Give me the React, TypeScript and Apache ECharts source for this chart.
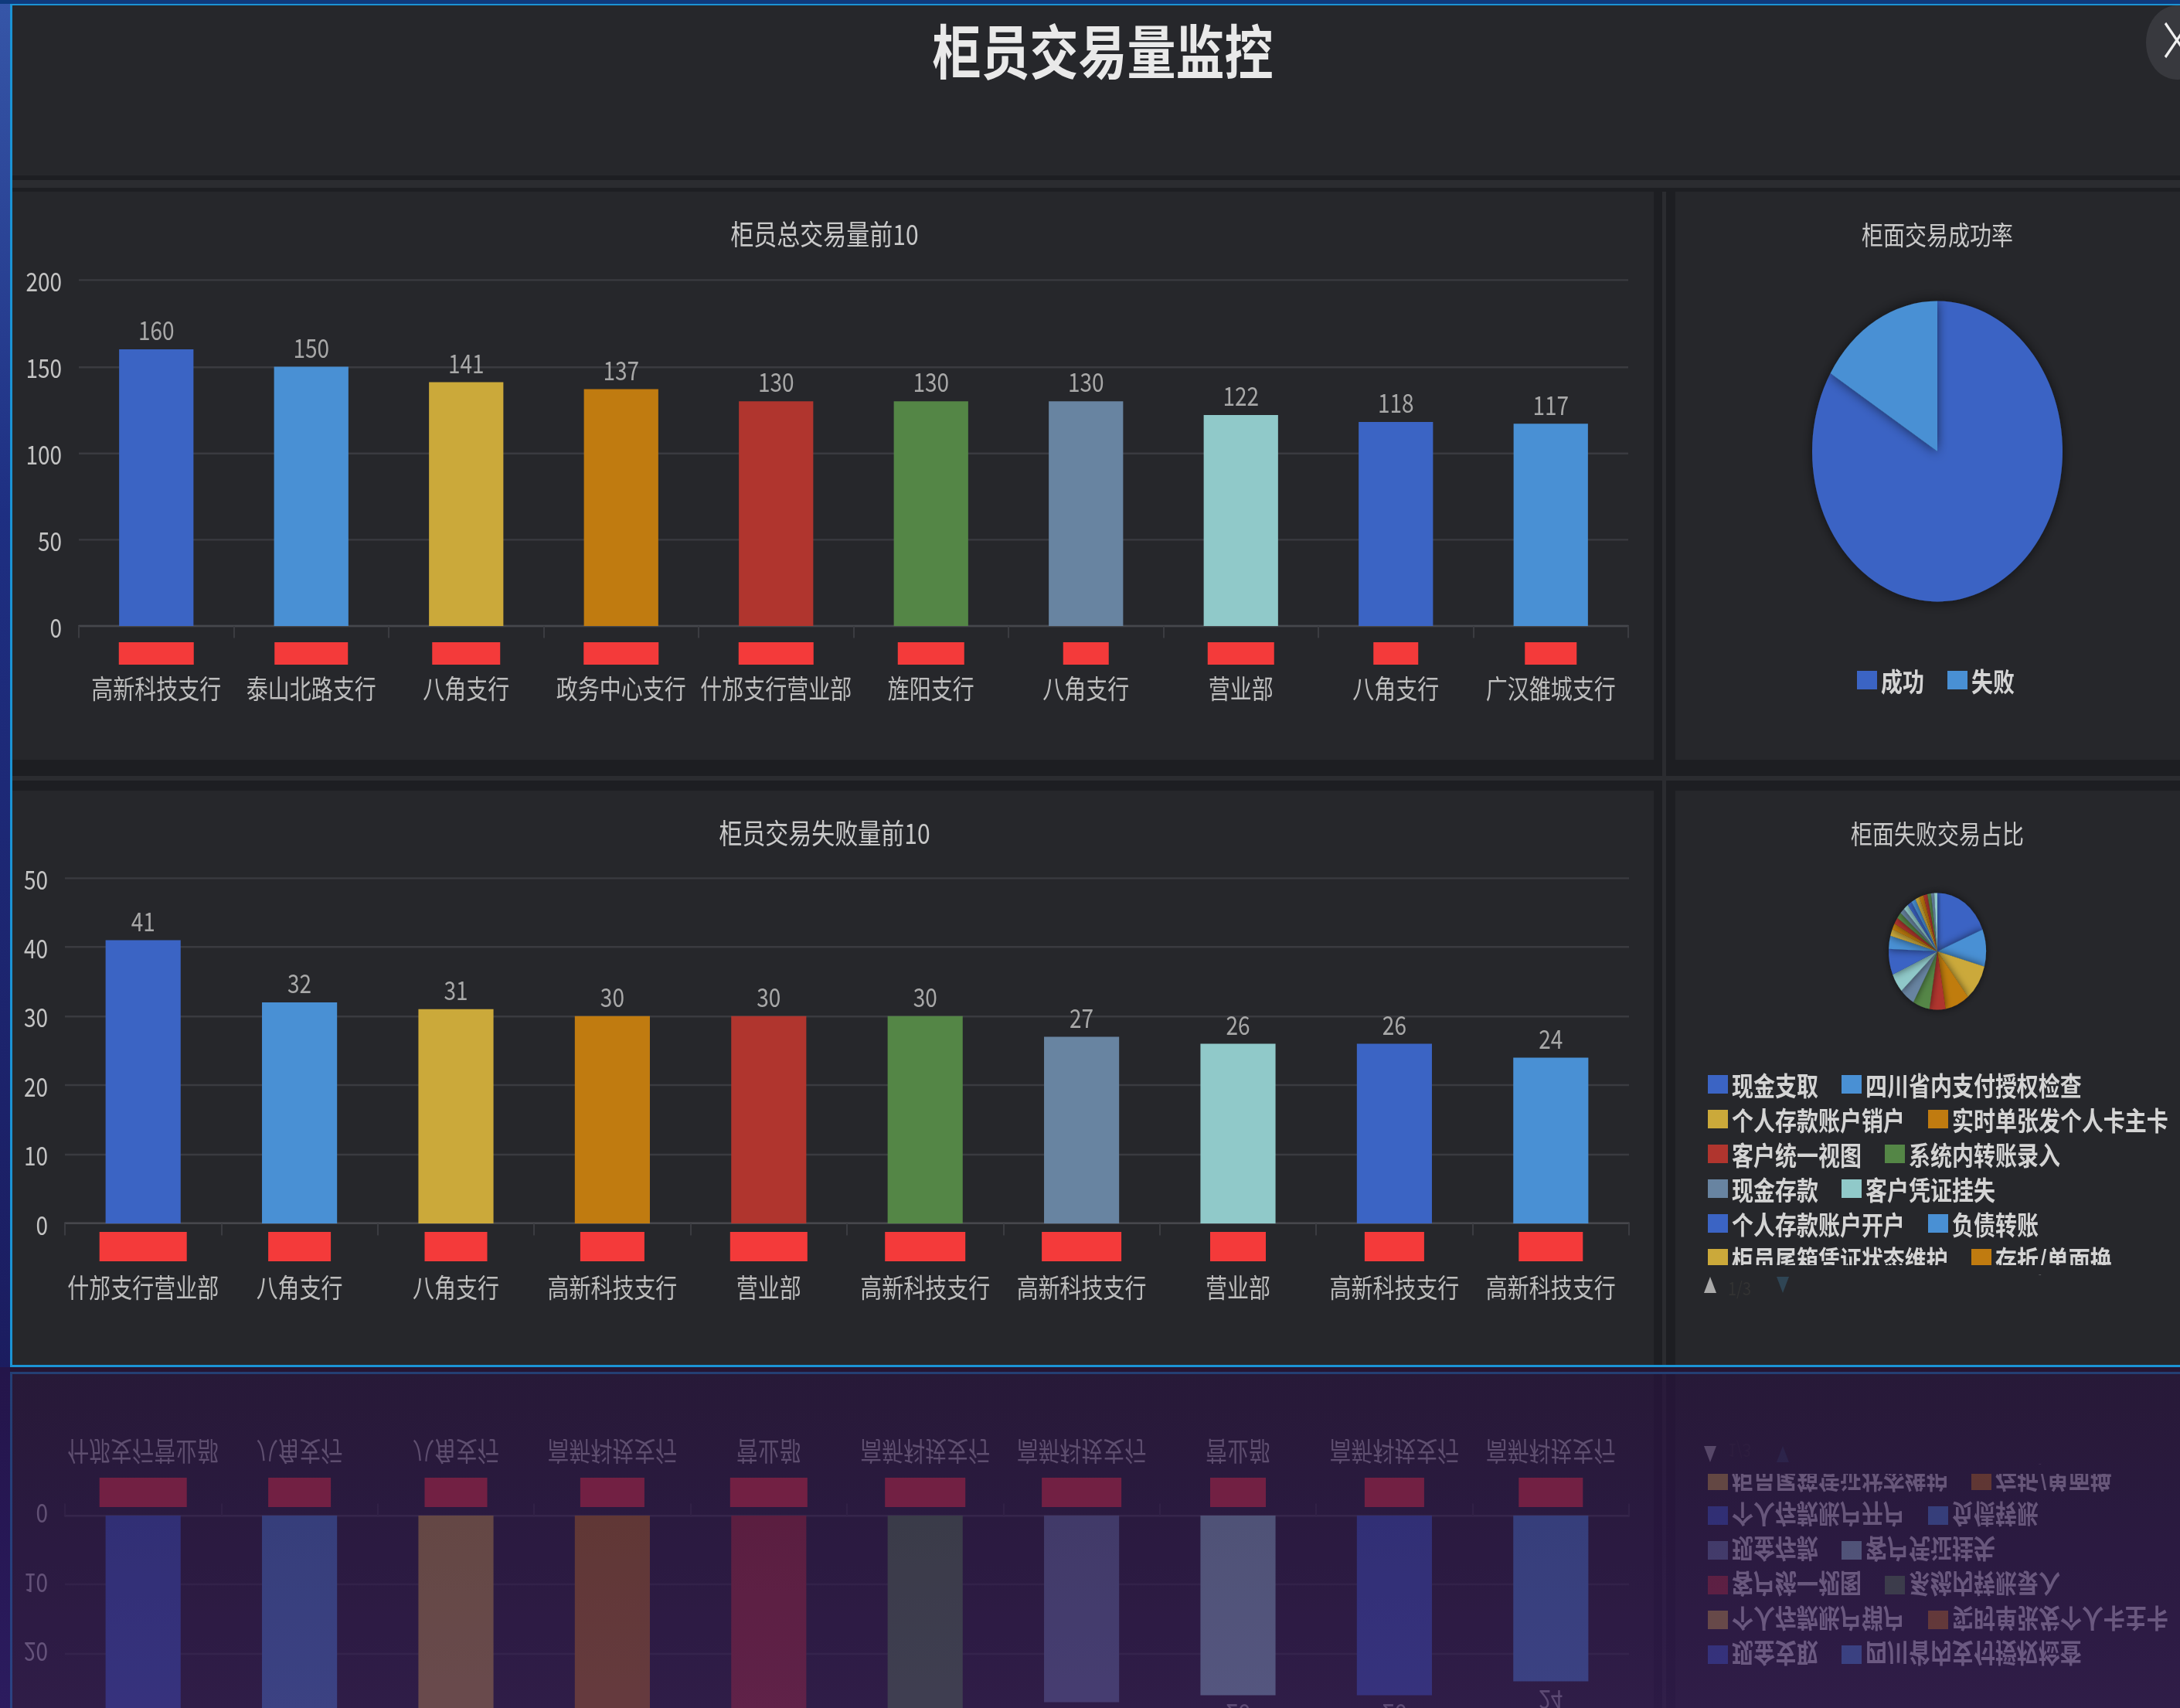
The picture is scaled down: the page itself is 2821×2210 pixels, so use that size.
import React, { useEffect, useRef } from 'react';
import * as echarts from 'echarts';

// ---------- page geometry ----------
const PAGE_W = 2821;
const PAGE_H = 2210;
const STRETCH = 1.2; // the screenshot is stretched vertically
const INNER_H = PAGE_H / STRETCH;
const MIRROR_TOP = 1769;
const MIRROR_AXIS = 1772;
const py = (v: number) => v / STRETCH;

const FONT = "'Noto Sans CJK SC', 'Noto Sans', sans-serif";

// ---------- data ----------
const palette = ['#3b64c4', '#4990d4', '#cba93a', '#c07b10', '#b0352e', '#548646', '#6884a1', '#90c9c9'];

const mainTitle = '柜员交易量监控';

const totalTitle = '柜员总交易量前10';
const totalBranches = ['高新科技支行', '泰山北路支行', '八角支行', '政务中心支行', '什邡支行营业部', '旌阳支行', '八角支行', '营业部', '八角支行', '广汉雒城支行'];
const totalValues = [160, 150, 141, 137, 130, 130, 130, 122, 118, 117];
const totalTicks = [0, 50, 100, 150, 200];

const failTitle = '柜员交易失败量前10';
const failBranches = ['什邡支行营业部', '八角支行', '八角支行', '高新科技支行', '营业部', '高新科技支行', '高新科技支行', '营业部', '高新科技支行', '高新科技支行'];
const failValues = [41, 32, 31, 30, 30, 30, 27, 26, 26, 24];
const failTicks = [0, 10, 20, 30, 40, 50];

const rateTitle = '柜面交易成功率';
const rateNames = ['成功', '失败'];
const rateValues = [83.7, 16.3];

const typeTitle = '柜面失败交易占比';
const typeNames = ['现金支取', '四川省内支付授权检查', '个人存款账户销户', '实时单张发个人卡主卡', '客户统一视图', '系统内转账录入', '现金存款', '客户凭证挂失', '个人存款账户开户', '负债转账', '柜员尾箱凭证状态维护', '存折/单面换', '密码重置', '挂失解挂', '定期存款开户', '定期存款销户', '对公现金存款', '对公现金支取', '账户信息修改', '借记卡换卡', '跨行转账', '代理缴费', '账户冻结', '账户解冻'];
const typeValues = [18.9, 10.3, 10.0, 8.1, 5.3, 5.6, 5.0, 5.3, 7.2, 3.6, 1.9, 1.7, 1.8, 1.7, 1.6, 1.6, 1.5, 1.5, 1.4, 1.4, 1.3, 1.2, 1.1, 1.0];
const typePager = '1/3';

// redaction blocks over the teller names (style only)
const totalMaskWidths = [97, 95, 88, 97, 97, 86, 59, 86, 58, 67];
const failMaskWidths = [113, 81, 81, 83, 100, 104, 103, 72, 77, 83];

// ---------- helpers ----------
const colorAt = (i: number) => palette[i % palette.length];

const rect = (x: number, y0: number, w: number, h: number, fill: any, z = -100) => ({
  type: 'rect', silent: true, z,
  shape: { x, y: py(y0), width: w, height: py(h) },
  style: { fill },
});

function maskRich(widths: number[], h: number) {
  const r: Record<string, any> = {};
  widths.forEach((w, i) => {
    r['m' + i] = { width: w, height: h, lineHeight: h, fontSize: 8, backgroundColor: '#f43a3a', color: 'transparent' };
  });
  return r;
}

function buildOption(reflect: boolean) {
  const grids: any[] = [];
  const xAxes: any[] = [];
  const yAxes: any[] = [];
  const series: any[] = [];
  const legends: any[] = [];
  const titles: any[] = [];

  const graphics: any[] = [
    rect(0, 0, PAGE_W, PAGE_H, '#1d1e22', -120),
    rect(16, 7, PAGE_W - 16, 220, '#26272b'),
    rect(16, 233, PAGE_W - 16, 10, '#2b2c30'),
    rect(16, 248, 2124, 735, '#26272b'),
    rect(2168, 248, PAGE_W - 2168, 735, '#26272b'),
    rect(16, 1023, 2124, 744, '#26272b'),
    rect(2168, 1023, PAGE_W - 2168, 744, '#26272b'),
    rect(16, 1004, PAGE_W - 16, 6, '#2b2c30'),
    rect(2151, 248, 5, 1519, '#2b2c30'),
    rect(0, 0, 13, PAGE_H, new echarts.graphic.LinearGradient(0, 0, 0, 1, [
      { offset: 0, color: '#3656a8' }, { offset: 0.3, color: '#1e2f82' }, { offset: 1, color: '#1a1552' },
    ])),
    rect(0, 0, PAGE_W, 5, '#0f3a7c'),
    rect(13, 5, 3, 1764, '#1b93d4'),
    rect(13, 5, PAGE_W - 13, 2, '#1b93d4'),
    rect(13, 1766, PAGE_W - 13, 3, '#1b93d4'),
    // clip of the partially visible legend row
    rect(2170, 1637, PAGE_W - 2170, 12, '#26272b', 100),
    // scroll-legend pager
    { type: 'polygon', silent: true, z: 101, shape: { points: [[2205, py(1673)], [2221, py(1673)], [2213, py(1652)]] }, style: { fill: '#aaaaaa' } },
    { type: 'text', silent: true, z: 101, x: 2236, y: py(1653), style: { text: typePager, fill: '#333333', fontSize: 20, fontFamily: FONT } },
    { type: 'polygon', silent: true, z: 101, shape: { points: [[2299, py(1652)], [2315, py(1652)], [2307, py(1673)]] }, style: { fill: '#2f4554' } },
  ];

  if (!reflect) {
    graphics.push(
      { type: 'circle', silent: true, z: -50, shape: { cx: 2817, cy: py(55), r: 40 }, style: { fill: '#38393e' } },
      { type: 'line', silent: true, z: -40, shape: { x1: 2802, y1: py(30), x2: 2832, y2: py(74) }, style: { stroke: '#f0f0f0', lineWidth: 3 } },
      { type: 'line', silent: true, z: -40, shape: { x1: 2802, y1: py(74), x2: 2832, y2: py(30) }, style: { stroke: '#f0f0f0', lineWidth: 3 } },
    );
    titles.push(
      { text: mainTitle, left: 1427, top: py(63) - 31.5, textAlign: 'center', padding: 0, textStyle: { color: '#e9e9e9', fontSize: 63, fontWeight: 'bold', fontFamily: FONT } },
      { text: totalTitle, left: 1067, top: py(302) - 15, textAlign: 'center', padding: 0, textStyle: { color: '#c9c9c9', fontSize: 30, fontWeight: 'normal', fontFamily: FONT } },
      { text: failTitle, left: 1067, top: py(1077) - 15, textAlign: 'center', padding: 0, textStyle: { color: '#c9c9c9', fontSize: 30, fontWeight: 'normal', fontFamily: FONT } },
      { text: rateTitle, left: 2507, top: py(302) - 14, textAlign: 'center', padding: 0, textStyle: { color: '#c9c9c9', fontSize: 28, fontWeight: 'normal', fontFamily: FONT } },
      { text: typeTitle, left: 2507, top: py(1077) - 14, textAlign: 'center', padding: 0, textStyle: { color: '#c9c9c9', fontSize: 28, fontWeight: 'normal', fontFamily: FONT } },
    );
  }

  const addBar = (cfg: {
    name: string; cats: string[]; vals: number[]; ticks: number[]; masks: number[];
    left: number; right: number; top: number; bottom: number;
    margin: number; maskH: number; lineH: number;
  }) => {
    const idx = grids.length;
    grids.push({
      left: cfg.left, top: py(cfg.top), width: cfg.right - cfg.left, height: py(cfg.bottom - cfg.top),
      containLabel: false, outerBoundsMode: 'none',
    });
    xAxes.push({
      type: 'category', gridIndex: idx, data: cfg.cats,
      axisLine: { show: true, lineStyle: { color: '#46474c', width: 2 } },
      axisTick: { show: true, length: 13, lineStyle: { color: '#3b3c41', width: 2 } },
      splitLine: { show: false },
      axisLabel: {
        interval: 0, hideOverlap: false, margin: py(cfg.margin), fontSize: 28, color: '#bdbdbd', fontFamily: FONT,
        formatter: (v: string, i: number) => `{m${i}| }\n{b|${v}}`,
        rich: { ...maskRich(cfg.masks, py(cfg.maskH)), b: { fontSize: 28, color: '#bdbdbd', lineHeight: cfg.lineH, fontFamily: FONT } },
      },
    });
    yAxes.push({
      type: 'value', gridIndex: idx,
      min: cfg.ticks[0], max: cfg.ticks[cfg.ticks.length - 1], interval: cfg.ticks[1] - cfg.ticks[0],
      axisLine: { show: false }, axisTick: { show: false },
      axisLabel: { color: '#c4c4c4', fontSize: 28, margin: 22, fontFamily: FONT },
      splitLine: { show: true, lineStyle: { color: '#3a3b40', width: 2 } },
    });
    series.push({
      type: 'bar', name: cfg.name, xAxisIndex: idx, yAxisIndex: idx,
      data: cfg.vals.map((v, i) => ({ value: v, itemStyle: { color: colorAt(i) } })),
      barWidth: '48%',
      label: { show: true, position: 'top', distance: 8, color: '#a8a8a8', fontSize: 28, fontFamily: FONT, textBorderWidth: 0 },
      emphasis: { disabled: true },
    });
  };

  if (!reflect) {
    addBar({
      name: totalTitle, cats: totalBranches, vals: totalValues, ticks: totalTicks, masks: totalMaskWidths,
      left: 102, right: 2107, top: 362.6, bottom: 810, margin: 21, maskH: 29, lineH: 49,
    });
  }
  addBar({
    name: failTitle, cats: failBranches, vals: failValues, ticks: failTicks, masks: failMaskWidths,
    left: 84, right: 2108, top: 1136, bottom: 1583, margin: 11, maskH: 38, lineH: 54,
  });

  const legendText = { color: '#d4d4d4', fontSize: 28, fontWeight: 'bold', fontFamily: FONT };

  if (!reflect) {
    series.push({
      type: 'pie', name: rateTitle, center: [2507, py(584)], radius: 162,
      data: rateNames.map((n, i) => ({ name: n, value: rateValues[i], itemStyle: { color: colorAt(i) } })),
      label: { show: false }, labelLine: { show: false }, emphasis: { disabled: true },
      itemStyle: { shadowBlur: 14, shadowColor: 'rgba(0,0,0,0.6)' },
    });
    legends.push({
      data: rateNames, left: 2403, top: py(880) - 14, padding: 0, orient: 'horizontal',
      icon: 'rect', itemWidth: 26, itemHeight: 20, itemGap: 30, selectedMode: false, textStyle: legendText,
    });
  }

  series.push({
    type: 'pie', name: typeTitle, center: [2507, py(1231)], radius: 63,
    data: typeNames.map((n, i) => ({ name: n, value: typeValues[i], itemStyle: { color: colorAt(i) } })),
    label: { show: false }, labelLine: { show: false }, emphasis: { disabled: true },
    itemStyle: { shadowBlur: 10, shadowColor: 'rgba(0,0,0,0.6)' },
  });

  const rowCenters = [1403, 1448, 1493, 1538, 1583, 1628];
  rowCenters.forEach((c, i) => {
    legends.push({
      data: typeNames.slice(i * 2, i * 2 + 2), left: 2210, top: py(c) - 14, padding: 0, orient: 'horizontal',
      icon: 'rect', itemWidth: 26, itemHeight: 20, itemGap: 30, selectedMode: false, textStyle: legendText,
    });
  });

  return {
    animation: false,
    color: palette,
    textStyle: { fontFamily: FONT },
    title: titles,
    grid: grids,
    xAxis: xAxes,
    yAxis: yAxes,
    legend: legends,
    series,
    graphic: { elements: graphics },
    tooltip: { show: false },
  };
}

function Board({ reflect }: { reflect: boolean }) {
  const ref = useRef<HTMLDivElement>(null);
  useEffect(() => {
    if (!ref.current) return;
    const chart = echarts.init(ref.current, null, { renderer: 'svg', width: PAGE_W, height: INNER_H });
    chart.setOption(buildOption(reflect));
    return () => chart.dispose();
  }, [reflect]);
  return <div ref={ref} style={{ width: PAGE_W, height: INNER_H }} />;
}

export default function App() {
  return (
    <div style={{ position: 'fixed', left: 0, top: 0, width: PAGE_W, height: PAGE_H, overflow: 'hidden', background: '#1d1e22' }}>
      <div style={{ position: 'absolute', left: 0, top: 0, width: PAGE_W, height: INNER_H, transformOrigin: '0 0', transform: `scaleY(${STRETCH})` }}>
        <Board reflect={false} />
      </div>
      <div style={{
        position: 'absolute', left: 0, top: MIRROR_TOP, width: PAGE_W, height: PAGE_H - MIRROR_TOP, overflow: 'hidden',
        background: 'linear-gradient(180deg, #29123f 0%, #2d134b 45%, #351858 100%)',
      }}>
        <div style={{
          position: 'absolute', left: 0, top: -MIRROR_TOP, width: PAGE_W, height: INNER_H,
          transformOrigin: '0 0', transform: `translateY(${2 * MIRROR_AXIS}px) scaleY(${-STRETCH})`, opacity: 0.35,
        }}>
          <Board reflect={true} />
        </div>
      </div>
    </div>
  );
}
